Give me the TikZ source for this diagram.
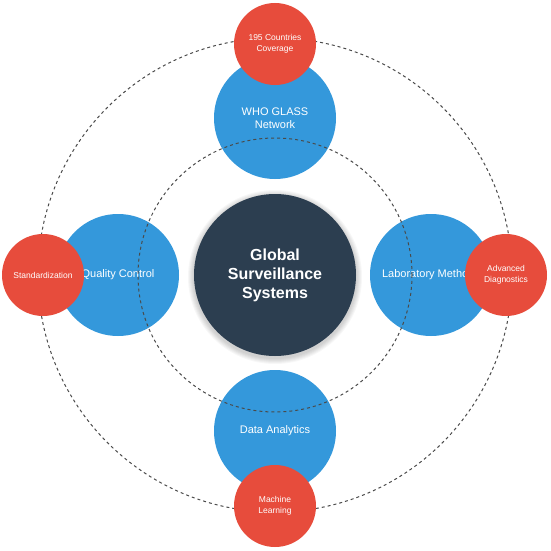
\documentclass[tikz,border=0pt]{standalone}
\usepackage{fontspec}
\setmainfont{Liberation Sans}
\definecolor{navy}{HTML}{2C3E50}
\definecolor{sblue}{HTML}{3498DB}
\definecolor{sred}{HTML}{E74C3C}
\definecolor{dashgray}{HTML}{4A4A4A}
\tikzset{
  hub/.style={circle, fill=navy, minimum size=162pt, inner sep=0pt, text=white, align=center,
    font=\fontsize{16}{19}\selectfont\bfseries},
  bluenode/.style={circle, fill=sblue, minimum size=122pt, inner sep=0pt, text=white, align=center,
    font=\fontsize{11}{13}\selectfont},
  rednode/.style={circle, fill=sred, minimum size=82pt, inner sep=0pt, text=white, align=center,
    font=\fontsize{8.5}{11}\selectfont},
  ring/.style={draw=dashgray, line width=1pt, dash pattern=on 3pt off 3pt},
  softshadow/.style={fill=black, opacity=0.03}
}
\begin{document}
\begin{tikzpicture}[x=1pt, y=-1pt]
\useasboundingbox (0,0) rectangle (550,551);
\fill[white] (0,0) rectangle (550,551);
\coordinate (o) at (275,275);
\coordinate (os) at (275,277);
% blue circles
\node[bluenode] (who) at (275,118) {WHO GLASS\\Network};
\node[bluenode] (qc) at (118,275) {Quality Control};
\node[bluenode] (lab) at (431,275) {Laboratory Methods};
\node[bluenode] (data) at (275,431) {Data Analytics};
% dashed rings
\draw[ring] (o) circle[radius=137pt];
\draw[ring] (o) circle[radius=237pt];
% red circles
\node[rednode] (cov) at (275,44) {195 Countries\\Coverage};
\node[rednode] (std) at (43,275) {Standardization};
\node[rednode] (adv) at (506,275) {Advanced\\Diagnostics};
\node[rednode] (ml) at (275,506) {Machine\\Learning};
% soft shadow of hub
\foreach \r in {82,83,...,87} {\fill[softshadow] (os) circle[radius=\r pt];}
% hub
\node[hub] (hub) at (o) {Global\\Surveillance\\Systems};
\end{tikzpicture}
\end{document}
